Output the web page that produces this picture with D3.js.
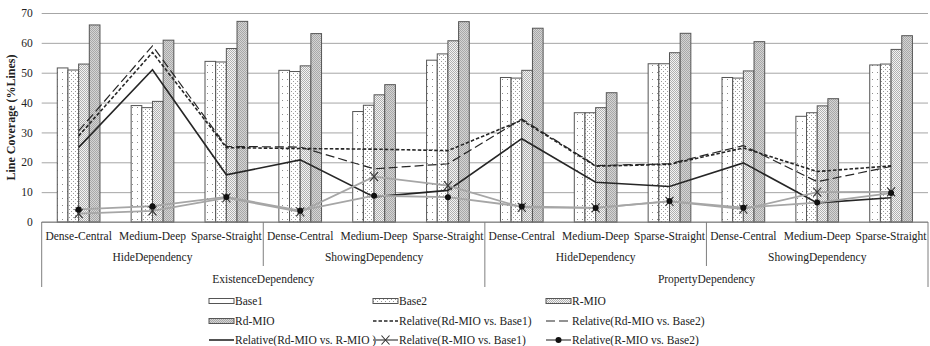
<!DOCTYPE html>
<html lang="en">
<head>
    <script src="https://d3js.org/d3.v7.min.js"></script>
    <style>
        body { margin: 0; background: #fff; }
        text { font-family: "Liberation Serif", "Times New Roman", serif; fill: #222; }
        .grid line { stroke: #a6a6a6; stroke-width: 1; }
        .bar { stroke: #555; stroke-width: 1; }
        .sep { stroke: #7f7f7f; stroke-width: 1; }
    </style>
</head>
<body>
    <div id="chart"></div>

    <script>
        // categories (three levels)
        const catLabels = ['Dense-Central', 'Medium-Deep', 'Sparse-Straight',
            'Dense-Central', 'Medium-Deep', 'Sparse-Straight',
            'Dense-Central', 'Medium-Deep', 'Sparse-Straight',
            'Dense-Central', 'Medium-Deep', 'Sparse-Straight'];
        const subGroups = ['HideDependency', 'ShowingDependency', 'HideDependency', 'ShowingDependency'];
        const groups = ['ExistenceDependency', 'PropertyDependency'];
        const yTicks = [0, 10, 20, 30, 40, 50, 60, 70];

        // bar series
        const base1 = [51.6, 39.0, 53.8, 50.8, 37.0, 54.2, 48.4, 36.6, 53.0, 48.4, 35.4, 52.6];
        const base2 = [50.9, 38.3, 53.6, 50.4, 39.1, 56.3, 48.2, 36.6, 53.0, 48.2, 36.6, 52.9];
        const rMio = [52.9, 40.4, 58.1, 52.3, 42.6, 60.7, 50.8, 38.3, 56.7, 50.6, 38.9, 57.8];
        const rdMio = [66.0, 60.9, 67.2, 63.1, 46.0, 67.1, 64.9, 43.3, 63.2, 60.4, 41.3, 62.4];

        // line series
        const relRdB1 = [28.8, 56.8, 24.9, 24.6, 24.4, 23.9, 34.1, 18.7, 19.3, 24.8, 16.9, 18.8];
        const relRdB2 = [30.5, 59.0, 25.3, 25.1, 17.8, 19.5, 34.5, 18.9, 19.5, 25.6, 13.5, 18.6];
        const relRdR = [25.0, 51.0, 15.8, 20.8, 8.4, 10.6, 27.9, 13.3, 11.9, 19.8, 6.4, 8.1];
        const relRB1 = [2.8, 3.7, 8.1, 3.4, 15.2, 12.2, 4.9, 4.7, 6.9, 4.3, 10.0, 10.1];
        const relRB2 = [4.2, 5.3, 8.4, 3.8, 8.8, 8.3, 5.2, 4.7, 7.0, 4.8, 6.5, 9.7];

        const barSeries = [
            { name: 'Base1', values: base1, fill: 'url(#pBase1)' },
            { name: 'Base2', values: base2, fill: 'url(#pBase2)' },
            { name: 'R-MIO', values: rMio, fill: 'url(#pRMio)' },
            { name: 'Rd-MIO', values: rdMio, fill: 'url(#pRdMio)' }
        ];
        const lineSeries = [
            { name: 'Relative(Rd-MIO vs. Base1)', values: relRdB1, color: '#262626', width: 1.6, dash: '3.5,2', marker: null },
            { name: 'Relative(Rd-MIO vs. Base2)', values: relRdB2, color: '#262626', width: 1.2, dash: '9,4', marker: null },
            { name: 'Relative(Rd-MIO vs. R-MIO )', values: relRdR, color: '#262626', width: 1.6, dash: null, marker: null },
            { name: 'Relative(R-MIO vs. Base1)', values: relRB1, color: '#a6a6a6', width: 1.8, dash: null, marker: 'x' },
            { name: 'Relative(R-MIO vs. Base2)', values: relRB2, color: '#a6a6a6', width: 1.8, dash: null, marker: 'dot' }
        ];

        const W = 930, H = 346;
        const plotLeft = 41.7, plotRight = 928, plotTop = 13, plotBottom = 222;

        const svg = d3.select('#chart').append('svg')
            .attr('width', W)
            .attr('height', H);

        // fill patterns
        const defs = svg.append('defs');
        function pattern(id, w, h, bg, dots, dotColor) {
            const p = defs.append('pattern').attr('id', id)
                .attr('patternUnits', 'userSpaceOnUse')
                .attr('width', w).attr('height', h);
            p.append('rect').attr('width', w).attr('height', h).attr('fill', bg);
            dots.forEach(d => p.append('rect').attr('x', d[0]).attr('y', d[1])
                .attr('width', 1).attr('height', 1).attr('fill', dotColor));
        }
        pattern('pBase1', 5, 7, '#fff', [[2, 2]], '#8c8c8c');
        pattern('pBase2', 4, 4, '#fff', [[1, 1], [3, 3]], '#9a9a9a');
        pattern('pRMio', 2, 2, '#f4f4f4', [[0, 0], [1, 1]], '#b0b0b0');
        pattern('pRdMio', 2, 2, '#d4d4d4', [[0, 0], [1, 1]], '#a8a8a8');

        // scales
        const x = d3.scaleBand().domain(d3.range(catLabels.length)).range([plotLeft, plotRight]);
        const step = x.bandwidth();
        const xInner = d3.scaleBand().domain(d3.range(barSeries.length))
            .range([0, step * 0.578]);
        const innerOffset = (step - step * 0.578) / 2;
        const y = d3.scaleLinear().domain([0, 70]).range([plotBottom, plotTop]);

        // gridlines + y tick labels
        const yAxis = svg.append('g').attr('class', 'grid')
            .attr('transform', `translate(${plotLeft},0)`)
            .call(d3.axisLeft(y).tickValues(yTicks).tickSize(-(plotRight - plotLeft)).tickPadding(9));
        yAxis.select('.domain').remove();
        yAxis.selectAll('text').style('font-size', '11.5px').attr('fill', '#222');

        // y title
        svg.append('text')
            .attr('transform', `translate(15,${(plotTop + plotBottom) / 2}) rotate(-90)`)
            .attr('text-anchor', 'middle')
            .style('font-size', '12px')
            .style('font-weight', 'bold')
            .text('Line Coverage (%Lines)');

        // bars
        barSeries.forEach((s, si) => {
            svg.append('g').selectAll('rect')
                .data(s.values)
                .enter().append('rect')
                .attr('class', 'bar')
                .attr('x', (d, i) => x(i) + innerOffset + xInner(si))
                .attr('width', xInner.bandwidth())
                .attr('y', d => y(d))
                .attr('height', d => y(0) - y(d))
                .attr('fill', s.fill);
        });

        // category axis
        svg.append('line').attr('class', 'sep')
            .attr('x1', plotLeft).attr('x2', plotRight).attr('y1', plotBottom).attr('y2', plotBottom);

        const xAxis = svg.append('g')
            .attr('transform', `translate(0,${plotBottom})`)
            .call(d3.axisBottom(x).tickSize(0).tickPadding(10).tickFormat(i => catLabels[i]));
        xAxis.select('.domain').remove();
        xAxis.selectAll('text').style('font-size', '11.5px').attr('fill', '#222');

        // sub-group and group labels with separators
        const subSize = 3;
        subGroups.forEach((g, gi) => {
            const x0 = x(gi * subSize), x1 = x(gi * subSize + subSize - 1) + step;
            svg.append('text')
                .attr('x', (x0 + x1) / 2).attr('y', 261)
                .attr('text-anchor', 'middle')
                .style('font-size', '11.5px')
                .text(g);
        });
        groups.forEach((g, gi) => {
            const x0 = x(gi * 6), x1 = x(gi * 6 + 5) + step;
            svg.append('text')
                .attr('x', (x0 + x1) / 2).attr('y', 283)
                .attr('text-anchor', 'middle')
                .style('font-size', '11.5px')
                .text(g);
        });
        for (let k = 0; k <= subGroups.length; k++) {
            const xs = k === subGroups.length ? plotRight : x(k * subSize);
            const outer = k % 2 === 0;
            svg.append('line').attr('class', 'sep')
                .attr('x1', xs).attr('x2', xs)
                .attr('y1', plotBottom).attr('y2', outer ? 287 : 266);
        }

        // lines
        const cx = i => x(i) + step / 2;
        const lineGen = d3.line().x((d, i) => cx(i)).y(d => y(d));
        lineSeries.forEach(s => {
            svg.append('path')
                .datum(s.values)
                .attr('fill', 'none')
                .attr('stroke', s.color)
                .attr('stroke-width', s.width)
                .attr('stroke-dasharray', s.dash)
                .attr('d', lineGen);
        });

        function drawMarker(g, type, px, py) {
            if (type === 'x') {
                g.append('path')
                    .attr('d', `M${px - 4},${py - 4.5}L${px + 4},${py + 4.5}M${px - 4},${py + 4.5}L${px + 4},${py - 4.5}`)
                    .attr('stroke', '#333').attr('stroke-width', 1.1).attr('fill', 'none');
            } else if (type === 'dot') {
                g.append('circle').attr('cx', px).attr('cy', py).attr('r', 3)
                    .attr('fill', '#111');
            }
        }
        const markers = svg.append('g');
        lineSeries.filter(s => s.marker).forEach(s => {
            s.values.forEach((v, i) => drawMarker(markers, s.marker, cx(i), y(v)));
        });

        // legend
        const legendItems = barSeries.map(s => ({ name: s.name, type: 'bar', s: s }))
            .concat(lineSeries.map(s => ({ name: s.name, type: 'line', s: s })));
        const colX = [209, 373, 546];
        const rowY = [301, 321, 340];
        const legend = svg.append('g');
        legendItems.forEach((it, i) => {
            const lx = colX[i % 3], ly = rowY[Math.floor(i / 3)];
            if (it.type === 'bar') {
                legend.append('rect')
                    .attr('x', lx).attr('y', ly - 2.5)
                    .attr('width', 25).attr('height', 5)
                    .attr('fill', it.s.fill)
                    .attr('stroke', '#555').attr('stroke-width', 1);
            } else {
                legend.append('line')
                    .attr('x1', lx).attr('x2', lx + 25).attr('y1', ly).attr('y2', ly)
                    .attr('stroke', it.s.marker ? '#7f7f7f' : it.s.color)
                    .attr('stroke-width', it.s.width)
                    .attr('stroke-dasharray', it.s.dash);
                if (it.s.marker) drawMarker(legend, it.s.marker, lx + 12.5, ly);
            }
            legend.append('text')
                .attr('x', lx + 26).attr('y', ly)
                .attr('dy', '0.35em')
                .style('font-size', '11.5px')
                .text(it.name);
        });
    </script>
</body>
</html>
